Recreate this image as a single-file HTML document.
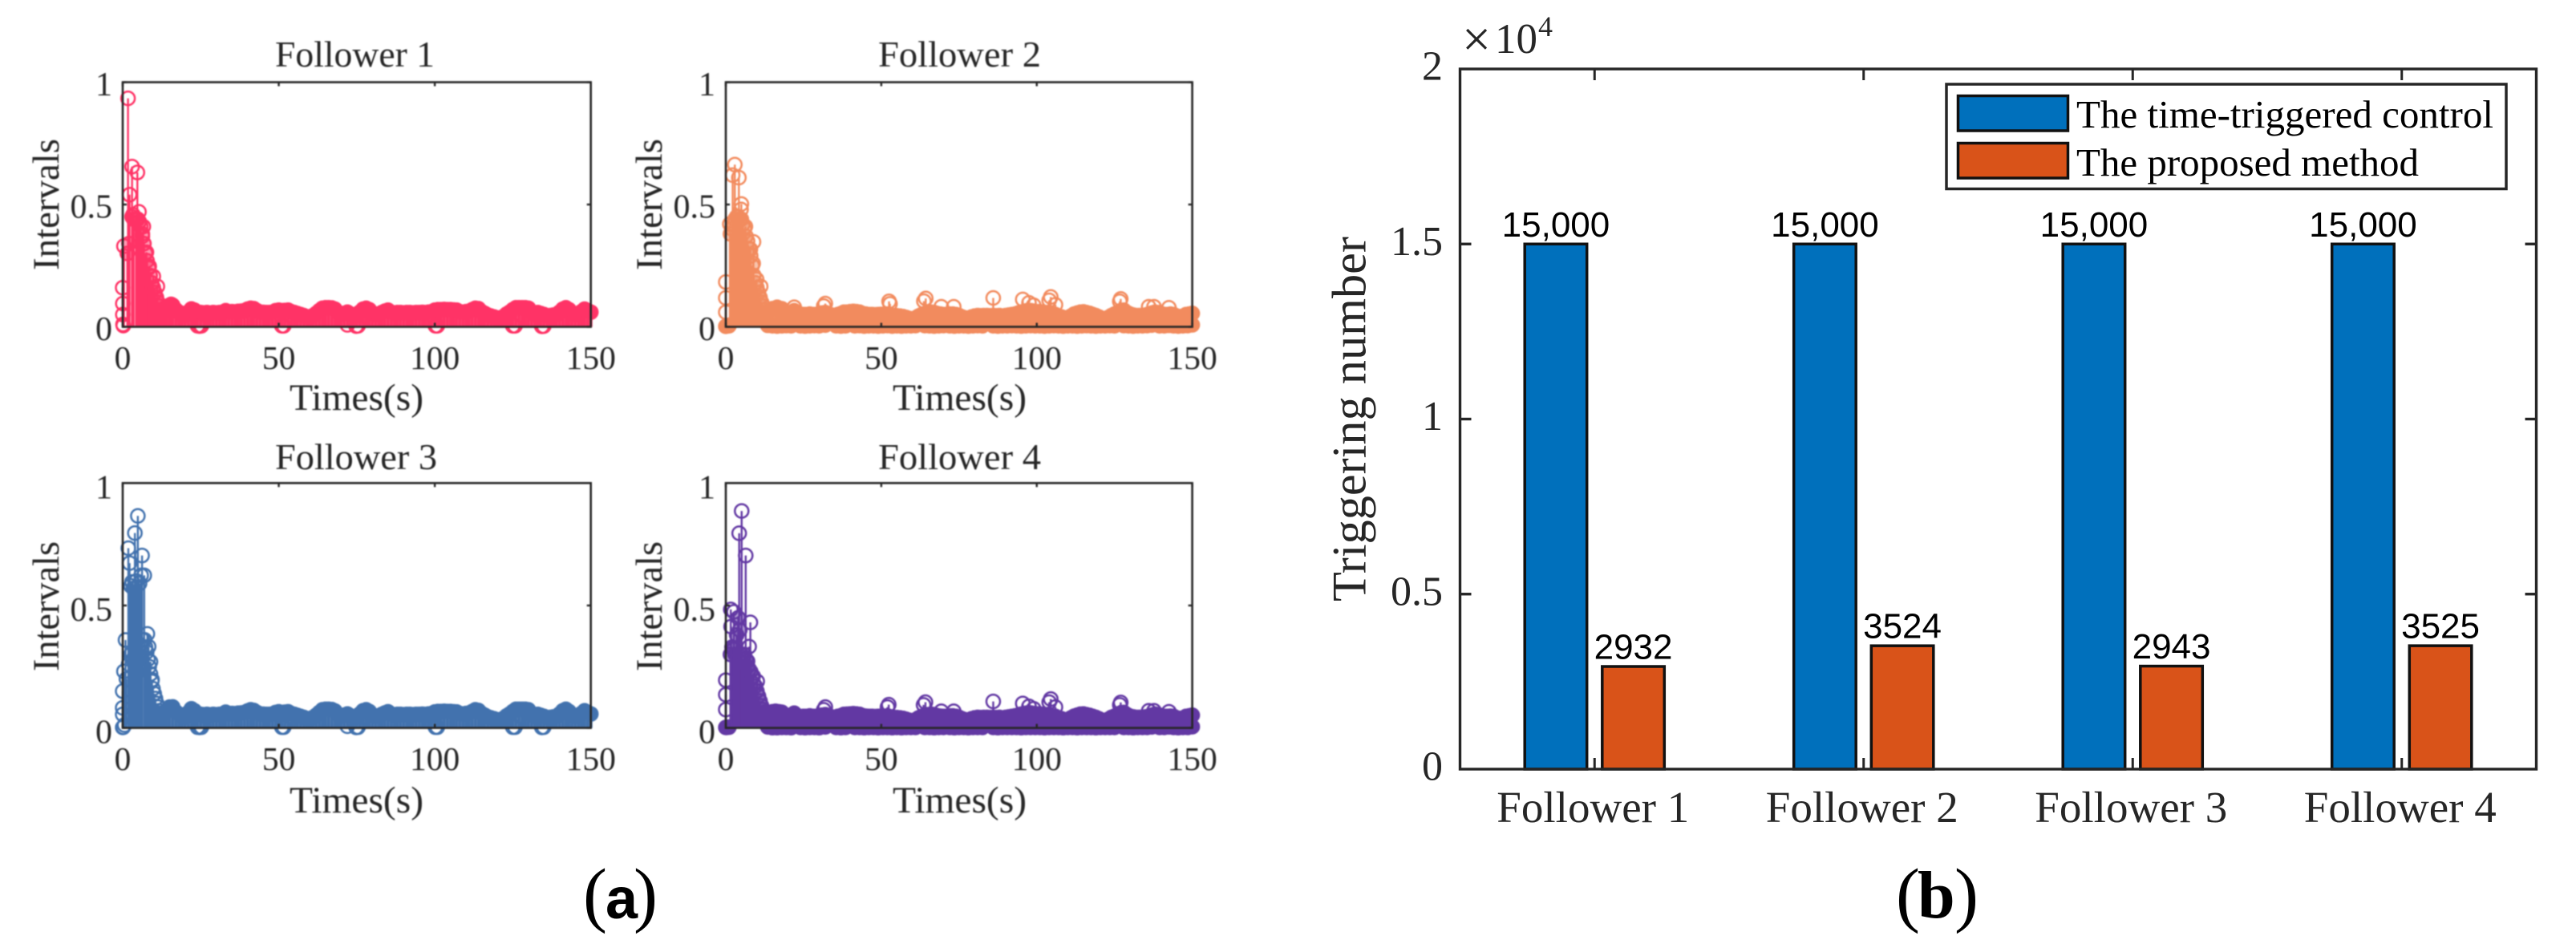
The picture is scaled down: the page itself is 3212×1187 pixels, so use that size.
<!DOCTYPE html>
<html lang="en">
<head>
<meta charset="utf-8">
<title>Intervals and triggering number by follower</title>
<style>
  html, body { margin: 0; padding: 0; background: #fff; }
  svg { display: block; }
  text { font-family: "Liberation Serif", serif; fill: #262626; }
  .soft { filter: blur(0.7px); }
</style>
</head>
<body>
<svg id="figure" xmlns="http://www.w3.org/2000/svg" width="3212" height="1187" viewBox="0 0 3212 1187">
  <rect width="3212" height="1187" fill="#fff"/>

  <g id="panel-a" class="soft">
    <g id="stems-1"></g>
    <g id="stems-2"></g>
    <g id="stems-3"></g>
    <g id="stems-4"></g>
    <g id="frames-a"></g>

    <text x="343" y="83" font-size="46" textLength="199" lengthAdjust="spacingAndGlyphs">Follower 1</text>
    <text x="1095" y="83" font-size="46" textLength="203" lengthAdjust="spacingAndGlyphs">Follower 2</text>
    <text x="343" y="585" font-size="46" textLength="202" lengthAdjust="spacingAndGlyphs">Follower 3</text>
    <text x="1095" y="585" font-size="46" textLength="203" lengthAdjust="spacingAndGlyphs">Follower 4</text>

    <text x="361" y="511" font-size="47" textLength="167" lengthAdjust="spacingAndGlyphs">Times(s)</text>
    <text x="1113" y="511" font-size="47" textLength="167" lengthAdjust="spacingAndGlyphs">Times(s)</text>
    <text x="361" y="1013" font-size="47" textLength="167" lengthAdjust="spacingAndGlyphs">Times(s)</text>
    <text x="1113" y="1013" font-size="47" textLength="167" lengthAdjust="spacingAndGlyphs">Times(s)</text>

    <text transform="translate(73,337) rotate(-90)" font-size="47" textLength="164" lengthAdjust="spacingAndGlyphs">Intervals</text>
    <text transform="translate(825,337) rotate(-90)" font-size="47" textLength="164" lengthAdjust="spacingAndGlyphs">Intervals</text>
    <text transform="translate(73,837) rotate(-90)" font-size="47" textLength="162" lengthAdjust="spacingAndGlyphs">Intervals</text>
    <text transform="translate(825,837) rotate(-90)" font-size="47" textLength="162" lengthAdjust="spacingAndGlyphs">Intervals</text>
  </g>

  <g id="bars"></g>
  <g id="frame-b"></g>

  <text font-size="64" x="1823" y="70">×</text>
  <text font-size="53" x="1864" y="66">10</text>
  <text font-size="36" x="1918" y="45">4</text>
  <text transform="translate(1702.5,750) rotate(-90)" font-size="60" textLength="455" lengthAdjust="spacingAndGlyphs">Triggering number</text>

  <g>
    <rect x="2427" y="105" width="698" height="130.5" fill="#fff" stroke="#262626" stroke-width="3.5"/>
    <rect x="2441.5" y="119.5" width="137" height="43.5" fill="#0070BC" stroke="#111" stroke-width="3.5"/>
    <rect x="2441.5" y="178.5" width="137" height="43.5" fill="#D95319" stroke="#111" stroke-width="3.5"/>
    <text x="2589" y="159" font-size="49" style="fill:#000" textLength="520" lengthAdjust="spacingAndGlyphs">The time-triggered control</text>
    <text x="2589" y="219" font-size="49" style="fill:#000" textLength="427" lengthAdjust="spacingAndGlyphs">The proposed method</text>
  </g>

  <g>
    <text font-size="90" x="727" y="1145" style="fill:#000">(</text>
    <text font-size="72" x="755" y="1145" style="fill:#000;font-family:'Liberation Sans',sans-serif;font-weight:bold">a</text>
    <text font-size="90" x="790" y="1145" style="fill:#000">)</text>
  </g>
  <g>
    <text font-size="90" x="2364" y="1145" style="fill:#000">(</text>
    <text font-size="84" x="2391" y="1144" style="fill:#000;font-weight:bold">b</text>
    <text font-size="90" x="2437" y="1145" style="fill:#000">)</text>
  </g>
</svg>

<script>
const categories = ['Follower 1', 'Follower 2', 'Follower 3', 'Follower 4'];
const timeTriggeredCounts = [15000, 15000, 15000, 15000];
const proposedCounts = [2932, 3524, 2943, 3525];
const countTickValues = [0, 5000, 10000, 15000, 20000];
const countTickLabels = ['0', '0.5', '1', '1.5', '2'];
const barValueLabels = ['15,000', '15,000', '15,000', '15,000'];
const proposedValueLabels = ['2932', '3524', '2943', '3525'];

const timeTickValues = [0, 50, 100, 150];
const timeTickLabels = ['0', '50', '100', '150'];
const intervalTickValues = [0, 0.5, 1];
const intervalTickLabels = ['0', '0.5', '1'];

const bandTimes = [13,14,15,16,17,18,19,20,21,22,23,24,25,26,27,28,29,30,31,32,33,34,35,36,37,38,39,40,41,42,43,44,45,46,47,48,49,50,51,52,53,54,55,56,57,58,59,60,61,62,63,64,65,66,67,68,69,70,71,72,73,74,75,76,77,78,79,80,81,82,83,84,85,86,87,88,89,90,91,92,93,94,95,96,97,98,99,100,101,102,103,104,105,106,107,108,109,110,111,112,113,114,115,116,117,118,119,120,121,122,123,124,125,126,127,128,129,130,131,132,133,134,135,136,137,138,139,140,141,142,143,144,145,146,147,148,149,150];

/* Follower 1 */
const peakTimes1 = [1.7,3,4.7,2.2,5.2,3.3,6.6,0.4,6.3,7.6,0,0.05,0.05,8.5,9.8,11.1,0.1,15.5];
const peakValues1 = [0.934,0.655,0.631,0.54,0.47,0.458,0.41,0.33,0.37,0.305,0.16,0.095,0.05,0.247,0.206,0.165,0.01,0.092];
const earlyTimes1 = [1.5,2,3,3.5,4.3,4.8,5.3,5.8,6.3,6.8,7.3,7.8,8.3,8.8,9.3,9.8,10.3,10.8,11.3,11.8,12.3,12.8];
const earlyValues1 = [0.30,0.34,0.45,0.44,0.44,0.44,0.43,0.41,0.38,0.34,0.30,0.27,0.24,0.21,0.18,0.16,0.14,0.12,0.10,0.085,0.07,0.06];
const bandValues1 = [0.070,0.080,0.088,0.088,0.070,0.060,0.050,0.045,0.060,0.073,0.068,0.060,0.058,0.057,0.058,0.056,0.058,0.057,0.058,0.060,0.066,0.060,0.062,0.061,0.063,0.064,0.066,0.072,0.076,0.074,0.066,0.060,0.059,0.058,0.058,0.060,0.066,0.068,0.066,0.067,0.068,0.062,0.058,0.054,0.050,0.046,0.041,0.038,0.046,0.055,0.066,0.076,0.078,0.078,0.077,0.072,0.058,0.050,0.055,0.060,0.052,0.047,0.045,0.060,0.072,0.076,0.070,0.056,0.050,0.052,0.058,0.064,0.068,0.060,0.056,0.058,0.058,0.057,0.058,0.058,0.057,0.058,0.058,0.059,0.058,0.060,0.062,0.068,0.070,0.070,0.071,0.070,0.070,0.069,0.068,0.062,0.060,0.062,0.064,0.070,0.076,0.074,0.062,0.055,0.048,0.044,0.040,0.036,0.033,0.042,0.052,0.060,0.070,0.078,0.078,0.078,0.078,0.076,0.060,0.050,0.058,0.054,0.050,0.045,0.046,0.048,0.050,0.060,0.072,0.078,0.070,0.056,0.050,0.052,0.062,0.072,0.066,0.060];
const lowTimes1 = [24,24.6,25.2,51,51.6,72,74.8,75.4,100.2,100.8,125,125.7,134.3,134.9,0.2];
const lowValues1 = [0.004,0.003,0.004,0.004,0.004,0.008,0.003,0.004,0.004,0.004,0.004,0.004,0.002,0.003,0.005];

/* Follower 2 */
const peakTimes2 = [2.9,2.2,4.2,5,4.9,1.3,6.3,8.9,7.9,8.8,0,0,0,0,9.9,11.2,16.5,22,31.5,32,52.5,52.8,63.7,64.3,69.3,73.3,86,95.5,97.5,99,104,104.5,106,126.7,127,136,137.7,142.5];
const peakValues2 = [0.663,0.62,0.61,0.502,0.48,0.42,0.41,0.347,0.317,0.259,0.183,0.118,0.06,0.002,0.194,0.165,0.08,0.08,0.085,0.095,0.104,0.094,0.105,0.116,0.082,0.082,0.118,0.112,0.098,0.088,0.108,0.122,0.09,0.104,0.114,0.082,0.082,0.078];
const earlyTimes2 = [1.5,2,2.5,3,3.5,4,4.5,5,5.5,6,6.5,7,7.5,8,8.5,9,9.5,10,10.5,11,11.5,12,12.5,13];
const earlyValues2 = [0.38,0.40,0.42,0.44,0.45,0.45,0.44,0.44,0.42,0.40,0.37,0.35,0.32,0.29,0.25,0.21,0.18,0.16,0.14,0.12,0.10,0.085,0.07,0.06];
const bandValues2 = [0.060,0.068,0.074,0.076,0.075,0.074,0.060,0.042,0.050,0.066,0.058,0.050,0.050,0.050,0.052,0.050,0.050,0.051,0.056,0.058,0.052,0.048,0.046,0.050,0.054,0.060,0.060,0.062,0.063,0.062,0.060,0.054,0.052,0.050,0.050,0.049,0.050,0.051,0.050,0.052,0.048,0.046,0.045,0.044,0.042,0.038,0.034,0.030,0.036,0.044,0.050,0.054,0.058,0.060,0.058,0.054,0.052,0.050,0.050,0.052,0.052,0.050,0.046,0.040,0.036,0.035,0.040,0.044,0.046,0.045,0.046,0.046,0.045,0.046,0.045,0.046,0.044,0.046,0.048,0.050,0.052,0.056,0.060,0.064,0.066,0.066,0.064,0.062,0.062,0.060,0.058,0.056,0.052,0.050,0.044,0.040,0.036,0.035,0.044,0.052,0.056,0.060,0.061,0.058,0.055,0.050,0.046,0.040,0.034,0.030,0.038,0.046,0.052,0.058,0.066,0.068,0.058,0.052,0.048,0.046,0.046,0.046,0.048,0.052,0.056,0.060,0.058,0.054,0.050,0.050,0.052,0.050,0.044,0.042,0.040,0.050,0.052,0.055];
const lowTimes2 = [0.3,1,13.5,15,16.5,18,19.5,21,24,25.5,27,28.5,30,32,35.5,37,38.5,41.5,43,44.5,46,47.5,49,50.5,52,53.5,55,56.5,58,59.5,61,64,65.5,67,68.5,70,72,73.5,75,76.5,78,79.5,81,82.5,86,87.5,89,90.5,92,93.5,95,96.5,98,99.5,101,102.5,104,105.5,107,108.5,110,111.5,113,114.5,116,117.5,119,120.5,122,123.5,125,128,129.5,131,132.5,134,135.5,137,139.5,141,142.5,144,145.5,147,148.5,150];
const lowValues2 = [0.005,0.004,0.006,0.004,0.003,0.004,0.005,0.004,0.004,0.003,0.004,0.005,0.004,0.007,0.004,0.003,0.004,0.004,0.005,0.003,0.004,0.004,0.003,0.004,0.005,0.003,0.004,0.003,0.004,0.004,0.005,0.005,0.004,0.003,0.004,0.005,0.004,0.003,0.004,0.004,0.003,0.004,0.005,0.004,0.004,0.003,0.004,0.004,0.005,0.004,0.003,0.004,0.005,0.004,0.004,0.003,0.004,0.005,0.004,0.003,0.004,0.004,0.003,0.004,0.005,0.004,0.003,0.004,0.004,0.005,0.004,0.005,0.004,0.003,0.004,0.004,0.005,0.007,0.004,0.004,0.006,0.004,0.003,0.004,0.005,0.008];

/* Follower 3 */
const peakTimes3 = [4.85,3.9,1.8,6.2,2.2,3,6.9,5.9,7.9,0.9,8.3,0.4,0,8.9,9.4,0,0,0,2.6,3.4,4.4,5.4];
const peakValues3 = [0.866,0.796,0.734,0.704,0.673,0.596,0.623,0.623,0.384,0.359,0.332,0.231,0.15,0.27,0.197,0.082,0.055,0.002,0.58,0.57,0.6,0.59];
const earlyTimes3 = [1.2,1.9,2.6,3.3,4.1,4.8,5.5,6.3,7,7.3,7.7,8.1,8.5,8.9,9.3,9.7,10.1,10.5,10.9,11.3,11.7,12.1,12.6];
const earlyValues3 = [0.20,0.26,0.30,0.28,0.33,0.30,0.34,0.36,0.36,0.33,0.31,0.28,0.25,0.22,0.19,0.16,0.14,0.12,0.10,0.085,0.07,0.06,0.06];
const bandValues3 = [0.060,0.072,0.085,0.086,0.066,0.056,0.048,0.043,0.062,0.078,0.070,0.058,0.055,0.054,0.055,0.053,0.055,0.054,0.055,0.057,0.064,0.057,0.059,0.058,0.060,0.061,0.063,0.069,0.074,0.071,0.063,0.057,0.056,0.055,0.055,0.057,0.063,0.066,0.063,0.064,0.066,0.059,0.055,0.051,0.047,0.043,0.038,0.035,0.043,0.052,0.063,0.074,0.076,0.076,0.075,0.069,0.055,0.047,0.052,0.057,0.049,0.044,0.042,0.057,0.070,0.074,0.067,0.053,0.047,0.049,0.055,0.061,0.066,0.057,0.053,0.055,0.055,0.054,0.055,0.055,0.054,0.055,0.055,0.056,0.055,0.057,0.059,0.065,0.067,0.067,0.068,0.067,0.067,0.066,0.065,0.059,0.057,0.059,0.061,0.067,0.074,0.071,0.059,0.052,0.045,0.041,0.037,0.033,0.030,0.039,0.049,0.057,0.067,0.076,0.076,0.076,0.076,0.074,0.057,0.047,0.055,0.051,0.047,0.042,0.043,0.045,0.047,0.057,0.070,0.076,0.067,0.053,0.047,0.049,0.059,0.070,0.063,0.057];
const lowTimes3 = [0.2,0.6,24,24.6,25.2,51,51.6,72,74.8,75.4,100.2,100.8,125,125.7,134.3,134.9];
const lowValues3 = [0.003,0.012,0.003,0.002,0.003,0.003,0.003,0.007,0.002,0.003,0.003,0.003,0.003,0.003,0.002,0.003];

/* Follower 4 */
const peakTimes4 = [5.1,4.3,6.4,1.6,2.6,7.9,1.7,7.5,2.6,7,0,8.8,10.1,0,0,0,16.5,22,31.5,32,52,52.4,63.6,64.2,69.3,73.3,86,95.5,97.5,99,104,104.5,106,126.7,127,136,137.7,142.5];
const peakValues4 = [0.886,0.795,0.704,0.484,0.474,0.431,0.414,0.332,0.326,0.272,0.195,0.211,0.19,0.136,0.075,0.002,0.06,0.06,0.074,0.085,0.085,0.095,0.094,0.105,0.068,0.068,0.108,0.10,0.088,0.078,0.105,0.118,0.085,0.094,0.104,0.07,0.07,0.066];
const earlyTimes4 = [1.5,2,2.5,3,3.5,4,4.5,5,5.5,6,6.5,7,7.5,8,8.5,9,9.5,10,10.5,11,11.5,12,12.5,13];
const earlyValues4 = [0.30,0.33,0.32,0.30,0.38,0.45,0.40,0.30,0.28,0.30,0.28,0.25,0.24,0.23,0.21,0.18,0.17,0.15,0.13,0.11,0.09,0.075,0.065,0.06];
const bandValues4 = [0.056,0.062,0.066,0.068,0.066,0.064,0.054,0.040,0.046,0.056,0.050,0.046,0.047,0.047,0.049,0.047,0.047,0.048,0.052,0.054,0.049,0.045,0.043,0.047,0.050,0.055,0.056,0.057,0.058,0.057,0.055,0.050,0.048,0.047,0.047,0.046,0.047,0.048,0.047,0.049,0.045,0.043,0.042,0.041,0.039,0.035,0.031,0.028,0.033,0.041,0.047,0.050,0.054,0.056,0.054,0.050,0.048,0.047,0.047,0.049,0.049,0.047,0.043,0.037,0.033,0.032,0.037,0.041,0.043,0.042,0.043,0.043,0.042,0.043,0.042,0.043,0.041,0.043,0.045,0.047,0.049,0.052,0.056,0.059,0.061,0.061,0.059,0.057,0.057,0.055,0.054,0.052,0.048,0.047,0.041,0.037,0.033,0.032,0.041,0.048,0.052,0.056,0.057,0.054,0.051,0.047,0.043,0.037,0.031,0.028,0.035,0.043,0.048,0.054,0.061,0.063,0.054,0.048,0.045,0.043,0.043,0.043,0.045,0.048,0.052,0.056,0.054,0.050,0.047,0.047,0.048,0.047,0.041,0.039,0.037,0.047,0.049,0.052];
const lowTimes4 = [0.3,1,13.5,15,16.5,18,19.5,21,24,25.5,27,28.5,30,32,35.5,37,38.5,41.5,43,44.5,46,47.5,49,50.5,52,53.5,55,56.5,58,59.5,61,64,65.5,67,68.5,70,72,73.5,75,76.5,78,79.5,81,82.5,86,87.5,89,90.5,92,93.5,95,96.5,98,99.5,101,102.5,104,105.5,107,108.5,110,111.5,113,114.5,116,117.5,119,120.5,122,123.5,125,128,129.5,131,132.5,134,135.5,137,139.5,141,142.5,144,145.5,147,148.5,150];
const lowValues4 = [0.002,0.003,0.004,0.001,0.001,0.002,0.002,0.001,0.002,0.001,0.002,0.002,0.001,0.004,0.002,0.001,0.002,0.002,0.002,0.001,0.002,0.002,0.001,0.002,0.002,0.001,0.002,0.001,0.002,0.002,0.002,0.002,0.002,0.001,0.002,0.002,0.002,0.001,0.002,0.002,0.001,0.002,0.002,0.002,0.002,0.001,0.002,0.002,0.002,0.002,0.001,0.002,0.002,0.002,0.002,0.001,0.002,0.002,0.002,0.001,0.002,0.002,0.001,0.002,0.002,0.002,0.001,0.002,0.002,0.002,0.002,0.002,0.002,0.001,0.002,0.002,0.002,0.004,0.002,0.002,0.004,0.002,0.001,0.002,0.002,0.005];

const NS = 'http://www.w3.org/2000/svg';
const AXIS_COLOR = '#262626';

function make(tag, attrs, parent) {
  const el = document.createElementNS(NS, tag);
  Object.keys(attrs).forEach(function (k) { el.setAttribute(k, attrs[k]); });
  parent.appendChild(el);
  return el;
}

/* ---------- interval stem panels ---------- */
const panelGeometry = [
  { left: 153, right: 736.7, top: 102.5, bottom: 407.5, labelDrop: 16.5, color: '#FF3366', host: 'stems-1' },
  { left: 905, right: 1486.6, top: 102.5, bottom: 407.5, labelDrop: 16.5, color: '#F28B5E', host: 'stems-2' },
  { left: 153, right: 736.7, top: 602.3, bottom: 907.6, labelDrop: 19, color: '#4272AE', host: 'stems-3' },
  { left: 905, right: 1486.6, top: 602.3, bottom: 907.6, labelDrop: 19, color: '#6238A3', host: 'stems-4' }
];

function timeScale(p, t) { return p.left + (t / 150) * (p.right - p.left); }
function intervalScale(p, v) { return p.bottom - v * (p.bottom - p.top); }

function drawStems(p, times, values, stemWidth, markerFillOpacity) {
  const host = document.getElementById(p.host);
  times.forEach(function (t, i) {
    const x = timeScale(p, t);
    const y = intervalScale(p, values[i]);
    const line = make('line', { x1: x, x2: x, y1: intervalScale(p, 0), y2: y, stroke: p.color, 'stroke-width': stemWidth }, host);
    
    
    const dot = make('circle', { cx: x, cy: y, r: 8.5, fill: p.color, 'fill-opacity': markerFillOpacity, stroke: p.color, 'stroke-width': 2.5 }, host);
    
    
  });
}

function drawIntervalAxes(p) {
  const host = document.getElementById('frames-a');
  const frame = make('rect', { x: p.left, y: p.top, width: p.right - p.left, height: p.bottom - p.top, fill: 'none', stroke: AXIS_COLOR, 'stroke-width': 2.6 }, host);
  
  
  timeTickValues.forEach(function (t, i) {
    const x = timeScale(p, t);
    const tickBottom = make('line', { x1: x, x2: x, y1: p.bottom, y2: p.bottom - 5, stroke: AXIS_COLOR, 'stroke-width': 2.4 }, host);
    
    
    const tickTop = make('line', { x1: x, x2: x, y1: p.top, y2: p.top + 5, stroke: AXIS_COLOR, 'stroke-width': 2.4 }, host);
    
    
    const label = make('text', { x: x, y: p.bottom + 52.5, 'font-size': 41.5, 'text-anchor': 'middle' }, host);
    
    
    label.textContent = timeTickLabels[i];
  });
  intervalTickValues.forEach(function (v, i) {
    const y = intervalScale(p, v);
    const tickLeft = make('line', { x1: p.left, x2: p.left + 5, y1: y, y2: y, stroke: AXIS_COLOR, 'stroke-width': 2.4 }, host);
    
    
    const tickRight = make('line', { x1: p.right, x2: p.right - 5, y1: y, y2: y, stroke: AXIS_COLOR, 'stroke-width': 2.4 }, host);
    
    
    const label = make('text', { x: p.left - 13, y: y + p.labelDrop, 'font-size': 42, 'text-anchor': 'end' }, host);
    
    
    label.textContent = intervalTickLabels[i];
  });
}

const p1 = panelGeometry[0], p2 = panelGeometry[1], p3 = panelGeometry[2], p4 = panelGeometry[3];

drawStems(p1, bandTimes, bandValues1, 4, 1);
drawStems(p1, lowTimes1, lowValues1, 2.5, 0);
drawStems(p1, earlyTimes1, earlyValues1, 2.6, 0.5);
drawStems(p1, peakTimes1, peakValues1, 2.4, 0);

drawStems(p2, bandTimes, bandValues2, 4, 1);
drawStems(p2, lowTimes2, lowValues2, 2.5, 1);
drawStems(p2, earlyTimes2, earlyValues2, 2.6, 0.5);
drawStems(p2, peakTimes2, peakValues2, 2.4, 0);

drawStems(p3, bandTimes, bandValues3, 4, 1);
drawStems(p3, lowTimes3, lowValues3, 2.5, 0);
drawStems(p3, earlyTimes3, earlyValues3, 2.4, 0);
drawStems(p3, peakTimes3, peakValues3, 2.4, 0);

drawStems(p4, bandTimes, bandValues4, 4, 1);
drawStems(p4, lowTimes4, lowValues4, 2.5, 1);
drawStems(p4, earlyTimes4, earlyValues4, 2.6, 0.5);
drawStems(p4, peakTimes4, peakValues4, 2.4, 0);

panelGeometry.forEach(drawIntervalAxes);

/* ---------- triggering number bar chart ---------- */
const barPlot = { left: 1820.5, right: 3162.5, top: 86, bottom: 959 };
const barWidth = 77.5;
const barGroupCenterOffset = 48.3;

function categoryScale(i) {
  return barPlot.left + ((i + 0.5) / categories.length) * (barPlot.right - barPlot.left);
}
function countScale(v) {
  return barPlot.bottom - (v / 20000) * (barPlot.bottom - barPlot.top);
}

function drawBar(i, value, offset, fill, labelText, labelName, barName) {
  const host = document.getElementById('bars');
  const cx = categoryScale(i) + offset;
  const top = countScale(value);
  const bar = make('rect', { x: cx - barWidth / 2, y: top, width: barWidth, height: barPlot.bottom - top, fill: fill, stroke: '#111', 'stroke-width': 3.5 }, host);
  
  
  const label = make('text', { x: cx, y: top - 9.5, 'font-size': 44, 'text-anchor': 'middle', style: 'font-family:"Liberation Sans",sans-serif;fill:#000' }, host);
  
  
  label.textContent = labelText;
}

categories.forEach(function (c, i) {
  drawBar(i, timeTriggeredCounts[i], -barGroupCenterOffset, '#0070BC', barValueLabels[i], 'time-triggered-value-label', 'time-triggered-bar');
  drawBar(i, proposedCounts[i], barGroupCenterOffset, '#D95319', proposedValueLabels[i], 'proposed-value-label', 'proposed-bar');
});

(function drawBarAxes() {
  const host = document.getElementById('frame-b');
  const frame = make('rect', { x: barPlot.left, y: barPlot.top, width: barPlot.right - barPlot.left, height: barPlot.bottom - barPlot.top, fill: 'none', stroke: AXIS_COLOR, 'stroke-width': 3.4 }, host);
  
  
  categories.forEach(function (c, i) {
    const x = categoryScale(i);
    const tickBottom = make('line', { x1: x, x2: x, y1: barPlot.bottom, y2: barPlot.bottom - 14, stroke: AXIS_COLOR, 'stroke-width': 3 }, host);
    
    
    const tickTop = make('line', { x1: x, x2: x, y1: barPlot.top, y2: barPlot.top + 14, stroke: AXIS_COLOR, 'stroke-width': 3 }, host);
    
    
    const label = make('text', { x: x - 2, y: 1025, 'font-size': 55, 'text-anchor': 'middle', textLength: 240, lengthAdjust: 'spacingAndGlyphs' }, host);
    
    
    label.textContent = c;
  });
  countTickValues.forEach(function (v, i) {
    const y = countScale(v);
    if (i > 0 && i < countTickValues.length - 1) {
      const tickLeft = make('line', { x1: barPlot.left, x2: barPlot.left + 14, y1: y, y2: y, stroke: AXIS_COLOR, 'stroke-width': 3.4 }, host);
      
      
      const tickRight = make('line', { x1: barPlot.right, x2: barPlot.right - 14, y1: y, y2: y, stroke: AXIS_COLOR, 'stroke-width': 3.4 }, host);
      
      
    }
    const label = make('text', { x: 1799, y: y + 13.5, 'font-size': 52, 'text-anchor': 'end' }, host);
    
    
    label.textContent = countTickLabels[i];
  });
})();
</script>
</body>
</html>
